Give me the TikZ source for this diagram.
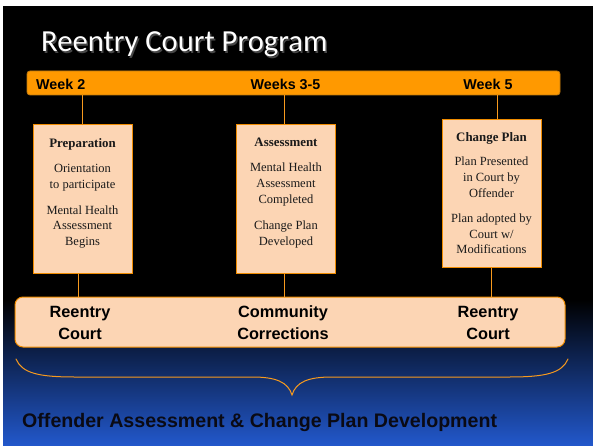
\documentclass[tikz,border=0pt]{standalone}
\usepackage{fontspec}
\setmainfont{Liberation Serif}
\newfontfamily\arialfont{Liberation Sans}
\newfontfamily\calfont{Carlito}
\definecolor{barorange}{HTML}{FF9900}
\definecolor{barborder}{HTML}{C07A10}
\definecolor{peach}{HTML}{FCD5B4}
\definecolor{boxborder}{HTML}{F08C00}
\definecolor{connorange}{HTML}{F79A1E}
\definecolor{bgblue}{HTML}{2258CC}
\definecolor{boxtext}{HTML}{1A1A1A}
\definecolor{bottomtext}{HTML}{0A0A14}
\tikzset{
  stagebox/.style={draw=boxborder, fill=peach, line width=1pt, minimum width=99pt, inner sep=0pt},
  boxtxt/.style={align=center, text=boxtext, inner sep=0pt, anchor=north,
    font=\fontsize{12.5}{15.7}\selectfont},
  weeklbl/.style={font=\arialfont\bfseries\fontsize{14.3}{16}\selectfont, text=black, inner sep=0pt},
  placelbl/.style={font=\arialfont\bfseries\fontsize{16.3}{22}\selectfont, text=black, align=center, inner sep=0pt},
  conn/.style={draw=connorange, line width=0.9pt},
}
\begin{document}
\begin{tikzpicture}[x=1pt,y=-1pt]
\useasboundingbox (0,0) rectangle (593,446);
\fill[white] (0,0) rectangle (593,446);
\fill[black] (3,6) rectangle (593,300);
\shade[top color=black, bottom color=bgblue] (3,299.5) rectangle (593,446);

% title
\node[anchor=base west, inner sep=0, text=gray!70!black, opacity=0.8,
  font=\calfont\fontsize{30.6}{36}\selectfont] (titleshadow) at (42.5,53.5) {Reentry Court Program};
\node[anchor=base west, inner sep=0, text=white,
  font=\calfont\fontsize{30.6}{36}\selectfont] (title) at (41,52) {Reentry Court Program};

% week bar
\node[draw=barborder, fill=barorange, rounded corners=3pt, line width=0.8pt,
  minimum width=533pt, minimum height=24pt, inner sep=0pt] (bar) at (293.5,83) {};
\node[weeklbl, anchor=west] (w1) at (36,84) {Week 2};
\node[weeklbl] (w2) at (285.5,84) {Weeks 3-5};
\node[weeklbl] (w3) at (488,84) {Week 5};

% stage boxes
\node[stagebox, minimum height=148pt] (b1) at (82.5,199) {};
\node[stagebox, minimum height=148pt] (b2) at (286,199) {};
\node[stagebox, minimum height=147pt] (b3) at (491.5,193.5) {};

\node[boxtxt] (t1) at ([yshift=-13.5pt]b1.north) {\fontsize{12.9}{15.7}\selectfont\bfseries Preparation\\[9.5pt]
Orientation\\to participate\\[10.5pt]Mental Health\\Assessment\\Begins};
\node[boxtxt] (t2) at ([yshift=-13.5pt]b2.north) {\fontsize{12.9}{15.7}\selectfont\bfseries Assessment\\[9.5pt]
Mental Health\\Assessment\\Completed\\[10.5pt]Change Plan\\Developed};
\node[boxtxt] (t3) at ([yshift=-12.5pt]b3.north) {\fontsize{12.9}{15.7}\selectfont\bfseries Change Plan\\[9pt]
Plan Presented\\in Court by\\Offender\\[9.5pt]Plan adopted by\\Court w/\\Modifications};

% bottom bar
\node[draw=boxborder, fill=peach, rounded corners=8pt, line width=1pt,
  minimum width=550pt, minimum height=50pt, inner sep=0pt] (base) at (290,322) {};
\node[placelbl] (p1) at (80,323) {Reentry\\Court};
\node[placelbl] (p2) at (283,323) {Community\\Corrections};
\node[placelbl] (p3) at (488,323) {Reentry\\Court};

% connectors
\draw[conn] ([xshift=-0.5pt]b1.north) -- ([xshift=-0.5pt]b1.north |- bar.south);
\draw[conn] ([xshift=-2pt]b2.north) -- ([xshift=-2pt]b2.north |- bar.south);
\draw[conn] ([xshift=5.5pt]b3.north) -- ([xshift=5.5pt]b3.north |- bar.south);
\draw[conn] ([xshift=-4.5pt]b1.south) -- ([xshift=-4.5pt]b1.south |- base.north);
\draw[conn] ([xshift=-2pt]b2.south) -- ([xshift=-2pt]b2.south |- base.north);
\draw[conn] (b3.south) -- (b3.south |- base.north);

% brace
\draw[connorange, line width=1pt, line cap=round]
  (16,359) .. controls (22,373) and (38,377) .. (75,377) -- (252,377)
  .. controls (276,377) and (288,382) .. (292,395)
  .. controls (296,382) and (308,377) .. (332,377) -- (509,377)
  .. controls (546,377) and (562,373) .. (568,359);

\node[anchor=base west, inner sep=0, text=bottomtext,
  font=\arialfont\bfseries\fontsize{19.6}{22}\selectfont] (summary) at (22,427.5)
  {Offender Assessment \& Change Plan Development};
\end{tikzpicture}
\end{document}
